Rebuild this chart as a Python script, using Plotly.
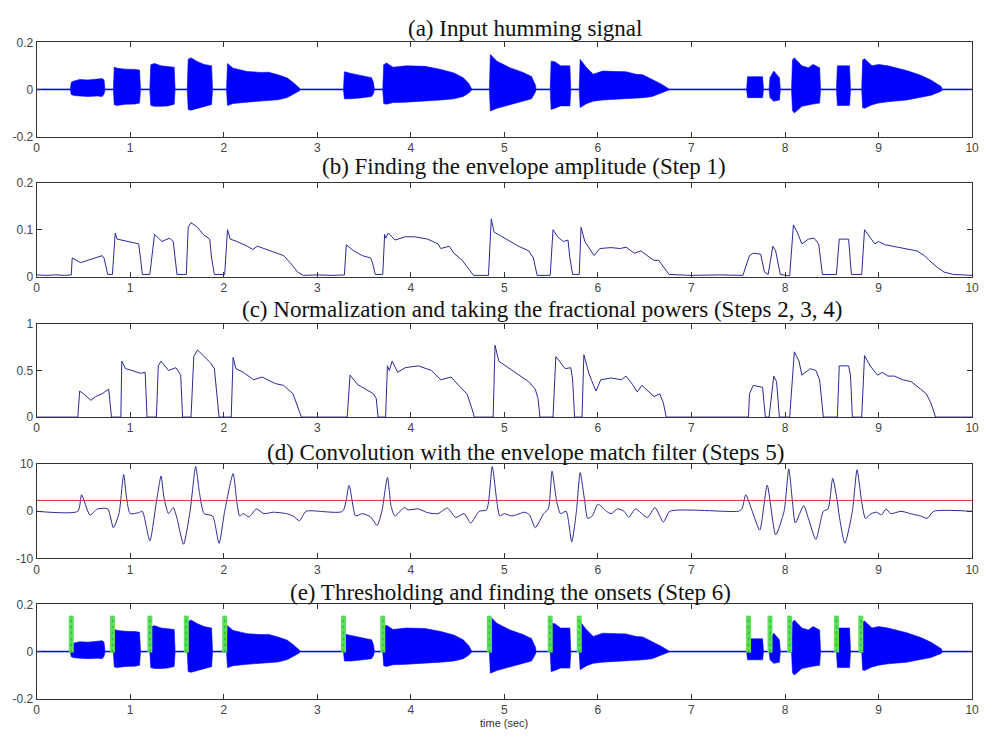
import plotly.graph_objects as go

# ---------------- data ----------------
# waveform envelope breakpoints (time, upper, lower) for panels (a) and (e)
WAVE_T = [0.00, 0.36,
          0.37, 0.40, 0.46, 0.55, 0.65, 0.70, 0.72, 0.73, 0.82,
          0.83, 0.86, 0.95, 1.05, 1.10, 1.11, 1.21,
          1.22, 1.26, 1.33, 1.40, 1.47, 1.48, 1.61,
          1.62, 1.65, 1.72, 1.79, 1.87, 1.88, 2.03,
          2.04, 2.10, 2.25, 2.40, 2.48, 2.58, 2.68, 2.74, 2.80, 2.82, 3.28,
          3.29, 3.36, 3.46, 3.58, 3.60, 3.61, 3.70,
          3.71, 3.74, 3.81, 3.95, 4.15, 4.32, 4.46, 4.56, 4.62, 4.65, 4.84,
          4.85, 4.92, 5.06, 5.20, 5.29, 5.33, 5.34, 5.49,
          5.50, 5.54, 5.60, 5.70, 5.71, 5.80,
          5.81, 5.88, 5.95, 6.05, 6.20, 6.30, 6.41, 6.48, 6.58, 6.68, 6.76, 7.59,
          7.60, 7.76, 7.77, 7.83,
          7.84, 7.88, 7.94, 7.95, 8.07,
          8.08, 8.10, 8.18, 8.25, 8.30, 8.37, 8.38, 8.55,
          8.56, 8.69, 8.70, 8.82,
          8.83, 8.85, 8.93, 9.00, 9.10, 9.30, 9.45, 9.56, 9.67, 9.68, 10.0]
WAVE_UP = [0.002, 0.002,
           0.030, 0.036, 0.042, 0.040, 0.044, 0.046, 0.040, 0.002, 0.002,
           0.095, 0.090, 0.086, 0.085, 0.082, 0.002, 0.002,
           0.105, 0.110, 0.100, 0.098, 0.094, 0.002, 0.002,
           0.128, 0.134, 0.118, 0.106, 0.100, 0.002, 0.002,
           0.110, 0.090, 0.076, 0.072, 0.073, 0.062, 0.048, 0.030, 0.010, 0.002, 0.002,
           0.075, 0.068, 0.060, 0.050, 0.030, 0.002, 0.002,
           0.105, 0.112, 0.094, 0.100, 0.098, 0.085, 0.070, 0.050, 0.025, 0.002, 0.002,
           0.148, 0.120, 0.092, 0.072, 0.055, 0.020, 0.002, 0.002,
           0.120, 0.118, 0.100, 0.100, 0.002, 0.002,
           0.127, 0.092, 0.064, 0.078, 0.076, 0.075, 0.064, 0.062, 0.042, 0.022, 0.002, 0.002,
           0.054, 0.054, 0.002, 0.002,
           0.050, 0.078, 0.050, 0.002, 0.002,
           0.125, 0.134, 0.100, 0.092, 0.106, 0.092, 0.002, 0.002,
           0.100, 0.100, 0.002, 0.002,
           0.125, 0.130, 0.100, 0.106, 0.100, 0.080, 0.060, 0.040, 0.012, 0.002, 0.002]
WAVE_LO = [-0.002, -0.002,
           -0.022, -0.026, -0.028, -0.030, -0.028, -0.030, -0.020, -0.002, -0.002,
           -0.065, -0.068, -0.063, -0.062, -0.058, -0.002, -0.002,
           -0.068, -0.072, -0.072, -0.070, -0.063, -0.002, -0.002,
           -0.085, -0.088, -0.080, -0.072, -0.064, -0.002, -0.002,
           -0.068, -0.060, -0.054, -0.050, -0.048, -0.044, -0.034, -0.022, -0.008, -0.002, -0.002,
           -0.040, -0.040, -0.036, -0.030, -0.018, -0.002, -0.002,
           -0.060, -0.063, -0.056, -0.054, -0.050, -0.045, -0.040, -0.030, -0.015, -0.002, -0.002,
           -0.092, -0.080, -0.065, -0.050, -0.040, -0.012, -0.002, -0.002,
           -0.085, -0.080, -0.070, -0.070, -0.002, -0.002,
           -0.077, -0.060, -0.050, -0.045, -0.042, -0.040, -0.038, -0.035, -0.030, -0.015, -0.002, -0.002,
           -0.035, -0.035, -0.002, -0.002,
           -0.035, -0.050, -0.045, -0.002, -0.002,
           -0.090, -0.100, -0.072, -0.065, -0.062, -0.058, -0.002, -0.002,
           -0.068, -0.068, -0.002, -0.002,
           -0.078, -0.080, -0.065, -0.058, -0.052, -0.045, -0.035, -0.025, -0.008, -0.002, -0.002]

# panel (b) envelope amplitude
ENV_T = [0.00, 0.10, 0.20, 0.30, 0.37, 0.38, 0.47, 0.62, 0.70, 0.72, 0.76, 0.81,
         0.84, 0.86, 0.98, 1.09, 1.11, 1.13, 1.21, 1.26, 1.34, 1.42, 1.46, 1.48, 1.50, 1.60,
         1.62, 1.65, 1.72, 1.78, 1.85, 1.87, 1.90, 2.01, 2.04, 2.07, 2.14, 2.25, 2.31, 2.36,
         2.46, 2.57, 2.64, 2.71, 2.79, 2.85, 3.00, 3.15, 3.29, 3.31, 3.39, 3.48, 3.57, 3.59,
         3.62, 3.70, 3.72, 3.73, 3.76, 3.83, 3.94, 4.04, 4.18, 4.29, 4.32, 4.41, 4.46, 4.55,
         4.62, 4.67, 4.83, 4.86, 4.89, 4.98, 5.06, 5.15, 5.26, 5.31, 5.35, 5.49, 5.52, 5.57,
         5.63, 5.68, 5.70, 5.73, 5.80, 5.82, 5.86, 5.93, 5.96, 6.02, 6.14, 6.24, 6.30, 6.39,
         6.46, 6.56, 6.60, 6.65, 6.71, 6.76, 7.00, 7.30, 7.55, 7.62, 7.66, 7.74, 7.78, 7.82,
         7.87, 7.90, 7.95, 8.05, 8.09, 8.13, 8.18, 8.25, 8.31, 8.36, 8.40, 8.55, 8.58, 8.68,
         8.71, 8.82, 8.85, 8.93, 8.96, 9.00, 9.07, 9.20, 9.34, 9.41, 9.49, 9.54, 9.63, 9.70,
         9.80, 10.00]
ENV_V = [0.004, 0.003, 0.004, 0.003, 0.004, 0.040, 0.030, 0.040, 0.045, 0.040, 0.005, 0.005,
         0.093, 0.080, 0.075, 0.070, 0.040, 0.005, 0.005, 0.090, 0.075, 0.082, 0.075, 0.040, 0.005, 0.005,
         0.105, 0.115, 0.105, 0.090, 0.080, 0.040, 0.005, 0.005, 0.100, 0.080, 0.075, 0.065, 0.058, 0.065,
         0.058, 0.050, 0.045, 0.030, 0.010, 0.003, 0.004, 0.003, 0.004, 0.068, 0.055, 0.045, 0.040, 0.030,
         0.005, 0.005, 0.090, 0.082, 0.093, 0.078, 0.085, 0.085, 0.080, 0.070, 0.060, 0.065, 0.050, 0.035,
         0.015, 0.003, 0.003, 0.123, 0.095, 0.085, 0.075, 0.065, 0.055, 0.040, 0.003, 0.003, 0.100, 0.085,
         0.075, 0.078, 0.040, 0.005, 0.005, 0.105, 0.075, 0.055, 0.045, 0.060, 0.062, 0.060, 0.063, 0.050,
         0.055, 0.040, 0.035, 0.035, 0.020, 0.005, 0.003, 0.004, 0.003, 0.045, 0.050, 0.048, 0.010, 0.005,
         0.065, 0.055, 0.005, 0.002, 0.110, 0.095, 0.070, 0.080, 0.082, 0.070, 0.005, 0.005, 0.080, 0.080,
         0.005, 0.005, 0.100, 0.080, 0.070, 0.075, 0.068, 0.063, 0.058, 0.055, 0.045, 0.035, 0.020, 0.010,
         0.005, 0.003]

# panel (c) normalized fractional power
NRM_T = [0.00, 0.44, 0.46, 0.50, 0.58, 0.63, 0.70, 0.77, 0.80, 0.90,
         0.91, 0.95, 1.02, 1.11, 1.16, 1.18, 1.28, 1.30, 1.33, 1.41, 1.49, 1.54, 1.56, 1.65,
         1.68, 1.72, 1.79, 1.86, 1.90, 1.95, 2.08, 2.10, 2.13, 2.21, 2.32, 2.41, 2.55, 2.64,
         2.74, 2.79, 2.83, 3.32, 3.35, 3.43, 3.52, 3.60, 3.63, 3.65, 3.73, 3.75, 3.77, 3.80,
         3.86, 3.94, 4.08, 4.22, 4.32, 4.43, 4.53, 4.60, 4.65, 4.68, 4.88, 4.90, 4.94, 5.01,
         5.15, 5.26, 5.33, 5.36, 5.38, 5.52, 5.55, 5.60, 5.65, 5.71, 5.73, 5.75, 5.83, 5.85,
         5.90, 5.93, 5.98, 6.03, 6.14, 6.25, 6.30, 6.37, 6.42, 6.47, 6.60, 6.66, 6.70, 6.73,
         7.61, 7.62, 7.66, 7.76, 7.79, 7.83, 7.88, 7.91, 7.94, 8.05, 8.10, 8.15, 8.18, 8.27,
         8.33, 8.37, 8.41, 8.56, 8.58, 8.68, 8.70, 8.72, 8.82, 8.85, 8.91, 8.99, 9.04, 9.10,
         9.17, 9.26, 9.35, 9.45, 9.51, 9.56, 9.61, 10.00]
NRM_V = [0.00, 0.00, 0.28, 0.25, 0.18, 0.22, 0.25, 0.30, 0.00, 0.00,
         0.60, 0.52, 0.50, 0.47, 0.48, 0.00, 0.00, 0.55, 0.60, 0.50, 0.53, 0.45, 0.00, 0.00,
         0.65, 0.72, 0.65, 0.58, 0.52, 0.00, 0.00, 0.64, 0.52, 0.48, 0.40, 0.43, 0.36, 0.34,
         0.25, 0.12, 0.00, 0.00, 0.45, 0.35, 0.30, 0.25, 0.20, 0.00, 0.00, 0.55, 0.50, 0.60,
         0.48, 0.53, 0.55, 0.50, 0.40, 0.43, 0.32, 0.25, 0.10, 0.00, 0.00, 0.77, 0.60, 0.55,
         0.45, 0.38, 0.30, 0.20, 0.00, 0.00, 0.65, 0.58, 0.52, 0.53, 0.40, 0.00, 0.00, 0.67,
         0.48, 0.40, 0.28, 0.40, 0.42, 0.40, 0.44, 0.35, 0.27, 0.34, 0.22, 0.25, 0.15, 0.00,
         0.00, 0.25, 0.34, 0.32, 0.00, 0.00, 0.44, 0.38, 0.00, 0.00, 0.70, 0.60, 0.45, 0.52,
         0.50, 0.40, 0.00, 0.00, 0.55, 0.55, 0.45, 0.00, 0.00, 0.66, 0.55, 0.45, 0.48, 0.44,
         0.44, 0.40, 0.38, 0.30, 0.25, 0.15, 0.00, 0.00]

# panel (d) convolution output
CNV_T = [0.00, 0.44, 0.48, 0.57, 0.65, 0.76, 0.82, 0.88, 0.93, 0.96, 1.00, 1.09, 1.13,
         1.21, 1.28, 1.33, 1.36, 1.41, 1.46, 1.50, 1.57, 1.64, 1.70, 1.74, 1.79, 1.88, 1.95,
         2.01, 2.10, 2.14, 2.17, 2.21, 2.27, 2.35, 2.43, 2.53, 2.67, 2.74, 2.81, 2.88, 3.27,
         3.34, 3.41, 3.48, 3.57, 3.64, 3.69, 3.75, 3.79, 3.83, 3.93, 3.97, 4.08, 4.18, 4.29,
         4.39, 4.48, 4.57, 4.64, 4.73, 4.81, 4.87, 4.92, 4.95, 5.00, 5.08, 5.22, 5.27, 5.33,
         5.42, 5.47, 5.51, 5.56, 5.60, 5.66, 5.72, 5.77, 5.81, 5.86, 5.89, 5.94, 6.00, 6.09,
         6.14, 6.21, 6.28, 6.33, 6.40, 6.53, 6.61, 6.70, 6.77, 7.50, 7.54, 7.58, 7.65, 7.73,
         7.81, 7.90, 7.99, 8.04, 8.08, 8.11, 8.20, 8.25, 8.33, 8.41, 8.46, 8.51, 8.56, 8.58,
         8.64, 8.72, 8.77, 8.82, 8.86, 8.92, 8.98, 9.03, 9.08, 9.13, 9.24, 9.34, 9.45, 9.52,
         9.59, 10.00]
CNV_V = [0.0, 0.0, 3.5, -0.8, 0.5, 0.5, -3.5, -0.5, 7.8, 3.0, -0.5, -0.3, 0.0,
         -6.3, 2.0, 7.5, 3.0, -0.5, 0.8, -1.5, -7.0, 0.0, 9.5, 4.0, -0.5, -1.0, -6.8,
         0.0, 8.0, 2.0, -1.0, -0.5, -1.2, 0.5, -0.5, -0.2, -0.5, -1.0, -2.0, 0.0, 0.0,
         5.5, -1.0, -0.5, -1.2, -3.0, 0.0, 7.2, 1.0, -1.0, 0.8, 0.3, 0.5, -0.3, -0.5,
         0.7, -1.3, -0.5, -2.5, 0.0, 0.3, 9.5, 2.0, -1.0, -0.5, -1.0, -0.2, -0.8, -3.5,
         -0.5, 0.5, 8.5, 2.0, -0.5, 0.0, -6.5, 0.0, 8.2, 2.0, -1.5, -1.0, 1.5, 0.0,
         -0.5, 0.5, 0.0, -1.3, 0.5, -1.3, 0.8, -2.3, 0.0, 0.0, 0.5, 3.5, 0.0, -4.0,
         5.5, -5.0, 0.0, 9.0, 2.0, -2.5, 1.2, -1.5, -6.0, 0.0, 0.5, 7.0, 2.0, -1.0,
         -6.8, 0.0, 8.8, 2.0, -1.5, -0.5, -0.2, -0.8, 0.5, -0.5, 0.0, -0.5, -1.0, -1.5,
         0.0, 0.0]
THRESHOLD = 2.3

# detected onsets, panel (e)
ONSETS = [0.37, 0.81, 1.21, 1.60, 2.01, 3.28, 3.70, 4.84, 5.49, 5.80,
          7.61, 7.84, 8.05, 8.55, 8.81]
ONSET_LO, ONSET_HI = -0.004, 0.152

TITLES = ["(a) Input humming signal",
          "(b) Finding the envelope amplitude (Step 1)",
          "(c) Normalization and taking the fractional powers (Steps 2, 3, 4)",
          "(d) Convolution with the envelope match filter (Steps 5)",
          "(e) Thresholding and finding the onsets (Step 6)"]
X_TICKS = list(range(0, 11))
Y_TICKS = [[-0.2, 0, 0.2], [0, 0.1, 0.2], [0, 0.5, 1], [-10, 0, 10], [-0.2, 0, 0.2]]
Y_TICKTEXT = [["-0.2", "0", "0.2"], ["0", "0.1", "0.2"], ["0", "0.5", "1"],
              ["-10", "0", "10"], ["-0.2", "0", "0.2"]]
Y_RANGES = [[-0.2, 0.2], [0, 0.2], [0, 1], [-10, 10], [-0.2, 0.2]]

# ---------------- layout geometry ----------------
W, H = 988, 740
X_DOM = [34 / W, 979 / W]
PANELS_PX = [(36, 132), (179, 275), (323, 418), (466, 562), (609, 705)]
TITLE_POS = [(527, 22), (526, 163), (545, 308), (528, 454), (513, 597)]

WAVE_BLUE = "#0000ff"
LINE_BLUE = "#2a2a96"

fig = go.Figure()


def add_wave(axn):
    fig.add_trace(go.Scatter(x=WAVE_T, y=WAVE_LO, mode="lines",
                             line=dict(color=WAVE_BLUE, width=0.6),
                             xaxis=f"x{axn}", yaxis=f"y{axn}", showlegend=False,
                             hoverinfo="skip"))
    fig.add_trace(go.Scatter(x=WAVE_T, y=WAVE_UP, mode="lines",
                             line=dict(color=WAVE_BLUE, width=0.6),
                             fill="tonexty", fillcolor=WAVE_BLUE,
                             xaxis=f"x{axn}", yaxis=f"y{axn}", showlegend=False,
                             hoverinfo="skip"))


add_wave(1)
fig.add_trace(go.Scatter(x=ENV_T, y=ENV_V, mode="lines",
                         line=dict(color=LINE_BLUE, width=1),
                         xaxis="x2", yaxis="y2", showlegend=False))
fig.add_trace(go.Scatter(x=NRM_T, y=NRM_V, mode="lines",
                         line=dict(color=LINE_BLUE, width=1),
                         xaxis="x3", yaxis="y3", showlegend=False))
fig.add_trace(go.Scatter(x=CNV_T, y=CNV_V, mode="lines",
                         line=dict(color=LINE_BLUE, width=1, shape="spline", smoothing=0.6),
                         xaxis="x4", yaxis="y4", showlegend=False))
fig.add_trace(go.Scatter(x=[0, 10], y=[THRESHOLD, THRESHOLD], mode="lines",
                         line=dict(color="#e03030", width=1),
                         xaxis="x4", yaxis="y4", showlegend=False))
add_wave(5)

ox, oy = [], []
for t in ONSETS:
    ox += [t, t, None]
    oy += [ONSET_LO, ONSET_HI, None]
fig.add_trace(go.Scatter(x=ox, y=oy, mode="lines",
                         line=dict(color="#5ee05e", width=5),
                         xaxis="x5", yaxis="y5", showlegend=False))
fig.add_trace(go.Scatter(x=ox, y=oy, mode="lines",
                         line=dict(color="#2fbf3a", width=1.5, dash="dot"),
                         xaxis="x5", yaxis="y5", showlegend=False))

tickfont = dict(family="Liberation Sans, Arial, sans-serif", size=12, color="#444444")
layout = dict(width=W, height=H, margin=dict(l=0, r=0, t=0, b=0),
              paper_bgcolor="white", plot_bgcolor="white", showlegend=False)
annotations = []
for i, (top, bot) in enumerate(PANELS_PX):
    n = i + 1
    suffix = "" if n == 1 else str(n)
    ydom = [1 - bot / H, 1 - top / H]
    layout["xaxis" + suffix] = dict(
        domain=X_DOM, range=[0, 10], anchor="y" + suffix,
        tickvals=X_TICKS, ticktext=[str(v) for v in X_TICKS],
        ticks="inside", ticklen=5, tickcolor="#333333",
        showline=True, linecolor="#333333", linewidth=1, mirror="ticks",
        showgrid=False, zeroline=False, tickfont=tickfont, fixedrange=True)
    layout["yaxis" + suffix] = dict(
        domain=ydom, range=Y_RANGES[i], anchor="x" + suffix,
        tickvals=Y_TICKS[i], ticktext=Y_TICKTEXT[i],
        ticks="inside", ticklen=5, tickcolor="#333333",
        showline=True, linecolor="#333333", linewidth=1, mirror="ticks",
        showgrid=False, zeroline=False, tickfont=tickfont, fixedrange=True)
    cx, cy = TITLE_POS[i]
    annotations.append(dict(text=TITLES[i], x=cx / W, y=1 - cy / H,
                            xref="paper", yref="paper", showarrow=False,
                            xanchor="center", yanchor="middle",
                            font=dict(family="Liberation Serif, Times New Roman, serif",
                                      size=23, color="#111111")))
annotations.append(dict(text="time (sec)", x=506 / W, y=1 - 730 / H,
                        xref="paper", yref="paper", showarrow=False,
                        xanchor="center", yanchor="middle",
                        font=dict(family="Liberation Sans, Arial, sans-serif",
                                  size=11, color="#333333")))
layout["annotations"] = annotations
fig.update_layout(**layout)

fig.write_html("out.html")
